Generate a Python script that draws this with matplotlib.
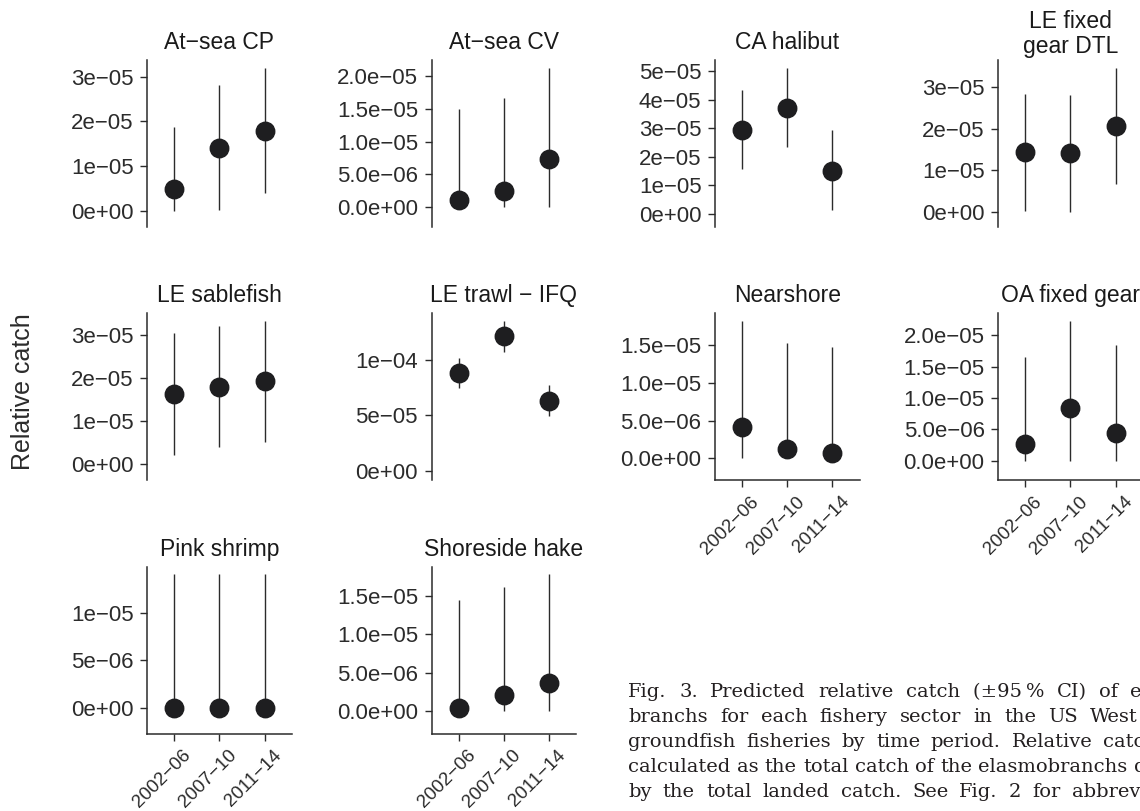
import matplotlib
matplotlib.use("Agg")
import matplotlib.pyplot as plt
import matplotlib.transforms as mtransforms
import numpy as np

# time periods on the x axis
periods = ["2002−06", "2007−10", "2011−14"]

# fishery sectors, one panel each
sectors = ["At−sea CP", "At−sea CV", "CA halibut", "LE fixed\ngear DTL",
           "LE sablefish", "LE trawl − IFQ", "Nearshore", "OA fixed gear",
           "Pink shrimp", "Shoreside hake"]

# predicted relative catch and 95% CI, in units of 1e-05
estimate = [
    [0.50, 1.41, 1.79],
    [0.11, 0.25, 0.74],
    [2.96, 3.73, 1.52],
    [1.43, 1.40, 2.06],
    [1.62, 1.80, 1.93],
    [8.84, 12.14, 6.30],
    [0.42, 0.12, 0.07],
    [0.27, 0.84, 0.44],
    [0.00, 0.00, 0.00],
    [0.04, 0.21, 0.37],
]
ci_low = [
    [0.00, 0.02, 0.41],
    [0.00, 0.00, 0.00],
    [1.56, 2.33, 0.13],
    [0.01, 0.00, 0.66],
    [0.23, 0.40, 0.51],
    [7.44, 10.75, 4.91],
    [0.00, 0.00, 0.00],
    [0.00, 0.00, 0.00],
    [0.00, 0.00, 0.00],
    [0.00, 0.00, 0.00],
]
ci_high = [
    [1.88, 2.81, 3.20],
    [1.50, 1.66, 2.13],
    [4.36, 5.13, 2.93],
    [2.83, 2.81, 3.47],
    [3.04, 3.21, 3.32],
    [10.20, 13.52, 7.71],
    [1.82, 1.53, 1.47],
    [1.66, 2.23, 1.85],
    [1.405, 1.405, 1.405],
    [1.445, 1.62, 1.78],
]
# y tick spacing per panel (units of 1e-05)
tick_step = [1, 0.5, 1, 1, 1, 5, 0.5, 0.5, 0.5, 0.5]

caption_lines = [
    "Fig. 3. Predicted relative catch (±95\u2009% CI) of elasmo-",
    "branchs for each fishery sector in the US West Coast",
    "groundfish fisheries by time period. Relative catch was",
    "calculated as the total catch of the elasmobranchs divided",
    "by the total landed catch. See Fig. 2 for abbreviations",
]

SCALE = 1e-5
Y_FLOOR = -0.19  # lower edge of the data range on every panel

plt.rcParams["font.family"] = ["Liberation Sans", "DejaVu Sans"]

W, H = 1140, 811
fig = plt.figure(figsize=(W / 100, H / 100), dpi=100)

col_left = [147.2, 431.5, 715.0, 998.2]
row_top = [60.0, 313.3, 566.7]
pw, ph = 144.5, 167.0

dark = "#2b2b2b"
dot = "#1e1e20"


def r_labels(ticks):
    # mimic R's scientific labels: one shared number of decimals
    mant = [t / 10 ** np.floor(np.log10(t)) for t in ticks if t > 0]
    dec = 0 if all(abs(m - round(m)) < 1e-6 for m in mant) else 1
    return [f"{t:.{dec}e}".replace("-", "−") for t in ticks]


for i, name in enumerate(sectors):
    row, col = divmod(i, 4)
    left = col_left[col] / W
    bottom = 1 - (row_top[row] + ph) / H
    ax = fig.add_axes([left, bottom, pw / W, ph / H])

    x = np.arange(1, 4)
    est = np.array(estimate[i]) * SCALE
    lo = np.array(ci_low[i]) * SCALE
    hi = np.array(ci_high[i]) * SCALE

    ax.vlines(x, lo, hi, color=dark, lw=1.0)
    ax.plot(x, est, "o", ms=13.3, color=dot, mec=dot)

    ax.set_xlim(0.4, 3.6)
    top = max(ci_high[i])
    rng = top - Y_FLOOR
    ax.set_ylim((Y_FLOOR - 0.05 * rng) * SCALE, (top + 0.05 * rng) * SCALE)

    step = tick_step[i]
    n = int(np.floor((top + 0.05 * rng) / step + 1e-9)) + 1
    ticks = [k * step * SCALE for k in range(n)]
    ax.set_yticks(ticks)
    ax.set_yticklabels(r_labels(ticks))

    for s in ["top", "right"]:
        ax.spines[s].set_visible(False)
    ax.spines["left"].set_color(dark)
    ax.spines["left"].set_linewidth(1.1)
    ax.tick_params(axis="y", length=5.3, width=1.0, color=dark, pad=4.5,
                   labelsize=16, labelcolor=dark)

    show_x = row == 2 or (row == 1 and col >= 2)
    if show_x:
        ax.spines["bottom"].set_color(dark)
        ax.spines["bottom"].set_linewidth(1.1)
        ax.set_xticks(x)
        ax.set_xticklabels(periods, rotation=45, ha="right", va="top",
                           rotation_mode="anchor")
        ax.tick_params(axis="x", length=5.3, width=1.0, color=dark, pad=4,
                       labelsize=13.5, labelcolor=dark)
        offset = mtransforms.ScaledTranslation(6 / 72, 0, fig.dpi_scale_trans)
        for lab in ax.get_xticklabels():
            lab.set_transform(lab.get_transform() + offset)
    else:
        ax.spines["bottom"].set_visible(False)
        ax.set_xticks([])

    pad = 4.8 if "\n" in name else 8
    ax.set_title(name, fontsize=16.5, color="#1a1a1a", pad=pad, linespacing=1.15)

fig.text(22.7 / W, 1 - 391.7 / H, "Relative catch", rotation=90,
         ha="center", va="center", fontsize=18, color=dark)

# justified caption block (clipped by the figure edge, as in the source page)
cap_font = dict(family="DejaVu Serif", fontsize=14, color="#231f20")
renderer = fig.canvas.get_renderer()


def text_width(s):
    t = fig.text(0, 0, s, **cap_font)
    w = t.get_window_extent(renderer).width
    t.remove()
    return w


x0 = 628.3
col_w = text_width(caption_lines[3])
for k, line in enumerate(caption_lines):
    words = line.split(" ")
    widths = [text_width(w) for w in words]
    gap = (col_w - sum(widths)) / (len(words) - 1)
    xpos = x0
    y = 696.7 + 25 * k
    for word, wd in zip(words, widths):
        fig.text(xpos / W, 1 - y / H, word, va="baseline", ha="left", **cap_font)
        xpos += wd + gap

fig.savefig("out.png", dpi=100)
